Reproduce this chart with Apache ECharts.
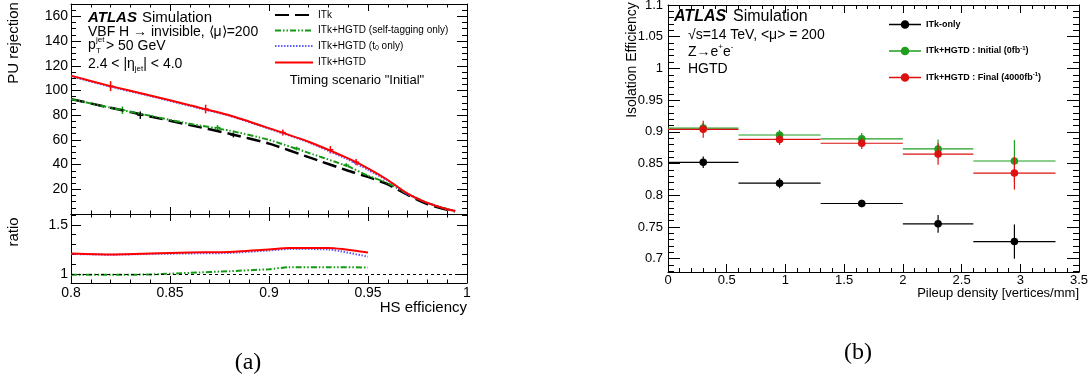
<!DOCTYPE html>
<html>
<head>
<meta charset="utf-8">
<script src="https://cdn.jsdelivr.net/npm/echarts@6/dist/echarts.min.js"></script>
<style>
  html, body { margin: 0; background: #fff; }
  #chart { width: 1091px; height: 378px; }
</style>
</head>
<body>
<div id="chart"></div>
<script>
// ---- (a) PU rejection vs HS efficiency ----
const effA = [0.80, 0.82, 0.84, 0.86, 0.88, 0.90, 0.92, 0.94, 0.95, 0.96, 0.97, 0.98, 0.99, 0.994];
const rejITk = [93, 86, 79, 72, 65, 57, 46, 35, 30, 24, 15.5, 8, 3.5, 2.3];
const rejSelf = [93, 86, 79.5, 73, 67.5, 60, 49.5, 38.5, 31, 25, 16.5, 9, 4, 2.5];
const rejT0 = [111.5, 103, 95.5, 87.5, 79.5, 69, 58, 44, 35.7, 27, 16, 9, 3.8, 2.5];
const rejFull = [112, 103.5, 96, 88, 80, 69.5, 58.5, 45, 37, 27.5, 16.5, 9, 3.8, 2.5];

// error markers: [efficiency, rejection, error]
const errFull = [[0.82, 103.5, 4], [0.868, 85, 3.5], [0.907, 66, 2.5], [0.931, 52, 3], [0.944, 42, 2.5]];
const errSelf = [[0.826, 84, 3], [0.874, 70, 2], [0.914, 53, 1.5], [0.939, 39.5, 1.5]];
const errITk = [[0.835, 80, 3], [0.882, 64, 2]];

// ratio panel
const effRatio = [0.80, 0.82, 0.84, 0.86, 0.88, 0.90, 0.91, 0.93, 0.95];
const ratioFull = [1.21, 1.20, 1.21, 1.22, 1.225, 1.25, 1.265, 1.265, 1.22];
const ratioT0 = [1.205, 1.197, 1.205, 1.21, 1.215, 1.24, 1.255, 1.25, 1.177];
const ratioSelf = [0.993, 0.993, 0.997, 1.013, 1.03, 1.05, 1.07, 1.07, 1.068];

// ---- (b) isolation efficiency vs pileup density ----
const binLo = [0, 0.6, 1.3, 2.0, 2.6];
const binHi = [0.6, 1.3, 2.0, 2.6, 3.3];
const binCenter = [0.3, 0.95, 1.65, 2.3, 2.95];
const effITkOnly = [0.852, 0.819, 0.787, 0.755, 0.727];
const errITkOnly = [0.009, 0.008, 0.006, 0.014, 0.027];
const effInitial = [0.906, 0.895, 0.889, 0.873, 0.854];
const errInitial = [0.008, 0.008, 0.009, 0.015, 0.033];
const effFinal = [0.904, 0.888, 0.882, 0.865, 0.835];
const errFinal = [0.0135, 0.0086, 0.009, 0.017, 0.026];

// tick labels
const xMajorA = [0.8, 0.85, 0.9, 0.95, 1];
const yMajorA = [0, 20, 40, 60, 80, 100, 120, 140, 160];
const yLabelsA = [20, 40, 60, 80, 100, 120, 140, 160];
const yMajorR = [1, 1.5];
const xMajorB = [0, 0.5, 1, 1.5, 2, 2.5, 3, 3.5];
const yMajorB = [0.7, 0.75, 0.8, 0.85, 0.9, 0.95, 1, 1.05, 1.1];

const FONT = 'Liberation Sans';

function steps(a, b, s) {
  const out = [];
  for (let v = a; v <= b + 1e-9; v += s) out.push(+v.toFixed(4));
  return out;
}

// four axes per side pair: labelled + minor, mirrored on the opposite side
function frameAxes(dim, grid, min, max, major, minor, labels, majLen, minLen, margin, fontSize) {
  const lo = dim === 'x' ? 'bottom' : 'left';
  const hi = dim === 'x' ? 'top' : 'right';
  const mk = (pos, ticks, len, showLine, lab) => ({
    gridIndex: grid, type: 'value', min, max, position: pos,
    splitLine: { show: false },
    axisLine: { show: showLine, onZero: false, lineStyle: { color: '#000', width: 1 } },
    axisTick: { show: true, inside: true, length: len, customValues: ticks, lineStyle: { color: '#000', width: 1 } },
    axisLabel: lab
      ? { show: true, customValues: lab, margin, fontSize, color: '#000', fontFamily: FONT }
      : { show: false },
    minorTick: { show: false }
  });
  return [
    mk(lo, major, majLen, true, labels),
    mk(lo, minor, minLen, false, null),
    mk(hi, major, majLen, true, null),
    mk(hi, minor, minLen, false, null)
  ];
}

const xAxes = [
  ...frameAxes('x', 0, 0.8, 1, xMajorA, steps(0.8, 1, 0.01), null, 7, 3.5, 2, 14),
  ...frameAxes('x', 1, 0.8, 1, xMajorA, steps(0.8, 1, 0.01), xMajorA, 7, 3.5, 3, 14),
  ...frameAxes('x', 2, 0, 3.5, xMajorB, steps(0, 3.5, 0.1), xMajorB, 8, 4, 2, 13)
];
const yAxes = [
  ...frameAxes('y', 0, 0, 170, yMajorA, steps(0, 170, 5), yLabelsA, 10, 5, 3, 14),
  ...frameAxes('y', 1, 0.91, 1.61, yMajorR, steps(1, 1.6, 0.1), yMajorR, 10, 5, 3, 14),
  ...frameAxes('y', 2, 0.679, 1.1, yMajorB, steps(0.68, 1.1, 0.01), yMajorB, 12, 6, 5, 13)
];

function renderErrA(params, api) {
  const x = api.value(0), y = api.value(1), e = api.value(2);
  const c = api.coord([x, y]);
  const t = api.coord([x, y + e]);
  const b = api.coord([x, y - e]);
  const st = { stroke: api.visual('color'), lineWidth: 1.5 };
  return {
    type: 'group',
    children: [
      { type: 'line', shape: { x1: c[0], y1: t[1], x2: c[0], y2: b[1] }, style: st },
      { type: 'line', shape: { x1: c[0] - 3, y1: c[1], x2: c[0] + 3, y2: c[1] }, style: st }
    ]
  };
}

function renderBin(params, api) {
  const lo = api.value(0), hi = api.value(1), x = api.value(2), y = api.value(3), e = api.value(4);
  const c = api.coord([x, y]);
  const l = api.coord([lo, y]);
  const r = api.coord([hi, y]);
  const t = api.coord([x, y + e]);
  const b = api.coord([x, y - e]);
  const color = api.visual('color');
  const st = { stroke: color, lineWidth: 1.2 };
  return {
    type: 'group',
    children: [
      { type: 'line', shape: { x1: l[0], y1: c[1], x2: r[0], y2: c[1] }, style: st },
      { type: 'line', shape: { x1: c[0], y1: t[1], x2: c[0], y2: b[1] }, style: st },
      { type: 'circle', shape: { cx: c[0], cy: c[1], r: 3.8 }, style: { fill: color } }
    ]
  };
}

const pts = (xs, ys) => xs.map((x, i) => [x, ys[i]]);
const bins = (ys, es) => binCenter.map((x, i) => [binLo[i], binHi[i], x, ys[i], es[i]]);

const cBlack = '#000000', cGreen = '#119911', cBlue = '#5a5aff', cRed = '#ff0000';
const styles = {
  'ITk': { color: cBlack, width: 2.5, type: [14, 6] },
  'ITk+HGTD (self-tagging only)': { color: cGreen, width: 2, type: [6, 2, 1.5, 2, 1.5, 2] },
  'ITk+HGTD (t0 only)': { color: cBlue, width: 2, type: [1.5, 1.5] },
  'ITk+HGTD': { color: cRed, width: 2, type: 'solid' }
};

function curve(name, data, xi, yi) {
  const s = styles[name];
  return {
    name, type: 'line', xAxisIndex: xi, yAxisIndex: yi, data,
    symbol: 'none', smooth: 0.2,
    itemStyle: { color: s.color },
    lineStyle: { color: s.color, width: s.width, type: s.type }
  };
}

const icon = 'path://M0,4.4L30,4.4L30,5.6L0,5.6Z M11,5A4,4,0,1,1,19,5A4,4,0,1,1,11,5Z';

const option = {
  animation: false,
  textStyle: { fontFamily: FONT },
  grid: [
    { left: 71, top: 4, width: 396, height: 210, outerBoundsMode: 'none' },
    { left: 71, top: 214, width: 396, height: 69, outerBoundsMode: 'none' },
    { left: 668, top: 5, width: 411, height: 267, outerBoundsMode: 'none' }
  ],
  xAxis: xAxes,
  yAxis: yAxes,
  legend: [
    {
      data: ['ITk', 'ITk+HGTD (self-tagging only)', 'ITk+HGTD (t0 only)', 'ITk+HGTD'],
      orient: 'vertical', left: 274, top: 10, padding: 0,
      itemWidth: 38, itemHeight: 10, itemGap: 5.5, selectedMode: false,
      itemStyle: { opacity: 0 },
      textStyle: {
        fontSize: 10, color: '#000', fontFamily: FONT,
        rich: {
          n: { fontSize: 10, lineHeight: 12, fontFamily: FONT, color: '#000' },
          sub: { fontSize: 7, verticalAlign: 'bottom', fontFamily: FONT, color: '#000' }
        }
      },
      formatter: (name) => name === 'ITk+HGTD (t0 only)' ? '{n|ITk+HGTD (t}{sub|0}{n| only)}' : name
    },
    {
      data: [
        { name: 'ITk-only', icon },
        { name: 'ITk+HGTD : Initial (0fb-1)', icon },
        { name: 'ITk+HGTD : Final (4000fb-1)', icon }
      ],
      orient: 'vertical', left: 889, top: 20, padding: 0,
      itemWidth: 32, itemHeight: 10, itemGap: 16, selectedMode: false,
      textStyle: {
        fontSize: 9, fontWeight: 'bold', color: '#000', fontFamily: FONT,
        rich: {
          b: { fontSize: 9, fontWeight: 'bold', lineHeight: 12, fontFamily: FONT, color: '#000' },
          sup: { fontSize: 6, fontWeight: 'bold', verticalAlign: 'top', fontFamily: FONT, color: '#000' }
        }
      },
      formatter: (name) => {
        if (name === 'ITk+HGTD : Initial (0fb-1)') return '{b|ITk+HGTD : Initial (0fb}{sup|-1}{b|)}';
        if (name === 'ITk+HGTD : Final (4000fb-1)') return '{b|ITk+HGTD : Final (4000fb}{sup|-1}{b|)}';
        return name;
      }
    }
  ],
  series: [
    curve('ITk', pts(effA, rejITk), 0, 0),
    curve('ITk+HGTD (self-tagging only)', pts(effA, rejSelf), 0, 0),
    curve('ITk+HGTD (t0 only)', pts(effA, rejT0), 0, 0),
    curve('ITk+HGTD', pts(effA, rejFull), 0, 0),
    { type: 'custom', xAxisIndex: 0, yAxisIndex: 0, data: errITk, renderItem: renderErrA, itemStyle: { color: cBlack }, encode: { x: 0, y: 1 } },
    { type: 'custom', xAxisIndex: 0, yAxisIndex: 0, data: errSelf, renderItem: renderErrA, itemStyle: { color: cGreen }, encode: { x: 0, y: 1 } },
    { type: 'custom', xAxisIndex: 0, yAxisIndex: 0, data: errFull, renderItem: renderErrA, itemStyle: { color: cRed }, encode: { x: 0, y: 1 } },

    Object.assign(curve('ITk+HGTD (self-tagging only)', pts(effRatio, ratioSelf), 4, 4), {
      markLine: {
        silent: true, symbol: 'none', label: { show: false },
        lineStyle: { color: '#000', width: 1, type: [3, 3] },
        data: [{ yAxis: 1 }]
      }
    }),
    curve('ITk+HGTD (t0 only)', pts(effRatio, ratioT0), 4, 4),
    curve('ITk+HGTD', pts(effRatio, ratioFull), 4, 4),

    { name: 'ITk-only', type: 'custom', xAxisIndex: 8, yAxisIndex: 8, data: bins(effITkOnly, errITkOnly), renderItem: renderBin, itemStyle: { color: '#000000' }, encode: { x: 2, y: 3 } },
    { name: 'ITk+HGTD : Initial (0fb-1)', type: 'custom', xAxisIndex: 8, yAxisIndex: 8, data: bins(effInitial, errInitial), renderItem: renderBin, itemStyle: { color: '#1f9e1f' }, encode: { x: 2, y: 3 } },
    { name: 'ITk+HGTD : Final (4000fb-1)', type: 'custom', xAxisIndex: 8, yAxisIndex: 8, data: bins(effFinal, errFinal), renderItem: renderBin, itemStyle: { color: '#dd1111' }, encode: { x: 2, y: 3 } }
  ],
  graphic: [
    // (a) labels
    { type: 'text', x: 88, y: 18, style: { text: 'ATLAS', fontSize: 15, fontWeight: 'bold', fontStyle: 'italic', fontFamily: FONT, fill: '#000', verticalAlign: 'middle' } },
    { type: 'text', x: 142, y: 18, style: { text: 'Simulation', fontSize: 15, fontFamily: FONT, fill: '#000', verticalAlign: 'middle' } },
    { type: 'text', x: 88, y: 32, style: { text: 'VBF H \u2192 invisible, \u27E8\u03BC\u27E9=200', fontSize: 14, fontFamily: FONT, fill: '#000', verticalAlign: 'middle' } },
    { type: 'text', x: 88, y: 45, style: { text: 'p', fontSize: 14, fontFamily: FONT, fill: '#000', verticalAlign: 'middle' } },
    { type: 'text', x: 96, y: 40, style: { text: 'jet', fontSize: 8, fontFamily: FONT, fill: '#000', verticalAlign: 'middle' } },
    { type: 'text', x: 96, y: 51, style: { text: 'T', fontSize: 8, fontFamily: FONT, fill: '#000', verticalAlign: 'middle' } },
    { type: 'text', x: 106, y: 46, style: { text: '> 50 GeV', fontSize: 14, fontFamily: FONT, fill: '#000', verticalAlign: 'middle' } },
    {
      type: 'text', x: 88, y: 64,
      style: {
        text: '{m|2.4 < |\u03B7}{s|jet}{m|| < 4.0}', verticalAlign: 'middle', fill: '#000',
        rich: {
          m: { fontSize: 14, lineHeight: 18, fontFamily: FONT, fill: '#000' },
          s: { fontSize: 8, verticalAlign: 'bottom', fontFamily: FONT, fill: '#000' }
        }
      }
    },
    { type: 'text', x: 357, y: 80, style: { text: 'Timing scenario "Initial"', fontSize: 13, fontFamily: FONT, fill: '#000', align: 'center', verticalAlign: 'middle' } },
    { type: 'text', x: 14, y: 43, rotation: Math.PI / 2, style: { text: 'PU rejection', fontSize: 15, fontFamily: FONT, fill: '#000', align: 'center', verticalAlign: 'middle' } },
    { type: 'text', x: 14, y: 232, rotation: Math.PI / 2, style: { text: 'ratio', fontSize: 15, fontFamily: FONT, fill: '#000', align: 'center', verticalAlign: 'middle' } },
    { type: 'text', x: 467, y: 308, style: { text: 'HS efficiency', fontSize: 15, fontFamily: FONT, fill: '#000', align: 'right', verticalAlign: 'middle' } },
    { type: 'text', x: 248, y: 363, style: { text: '(a)', fontSize: 24, fontFamily: 'Liberation Serif', fill: '#000', align: 'center', verticalAlign: 'middle' } },

    // (b) labels
    { type: 'text', x: 674, y: 17, style: { text: 'ATLAS', fontSize: 16, fontWeight: 'bold', fontStyle: 'italic', fontFamily: FONT, fill: '#000', verticalAlign: 'middle' } },
    { type: 'text', x: 733, y: 17, style: { text: 'Simulation', fontSize: 16, fontFamily: FONT, fill: '#000', verticalAlign: 'middle' } },
    { type: 'text', x: 688, y: 35, style: { text: '\u221As=14 TeV, <\u03BC> = 200', fontSize: 14, fontFamily: FONT, fill: '#000', verticalAlign: 'middle' } },
    {
      type: 'text', x: 688, y: 52,
      style: {
        text: '{m|Z\u2192e}{p|+}{m|e}{p|-}', verticalAlign: 'middle', fill: '#000',
        rich: {
          m: { fontSize: 14, lineHeight: 18, fontFamily: FONT, fill: '#000' },
          p: { fontSize: 8, verticalAlign: 'top', fontFamily: FONT, fill: '#000' }
        }
      }
    },
    { type: 'text', x: 688, y: 69, style: { text: 'HGTD', fontSize: 14, fontFamily: FONT, fill: '#000', verticalAlign: 'middle' } },
    { type: 'text', x: 632, y: 60, rotation: Math.PI / 2, style: { text: 'Isolation Efficiency', fontSize: 14, fontFamily: FONT, fill: '#000', align: 'center', verticalAlign: 'middle' } },
    { type: 'text', x: 1079, y: 293, style: { text: 'Pileup density [vertices/mm]', fontSize: 13, fontFamily: FONT, fill: '#000', align: 'right', verticalAlign: 'middle' } },
    { type: 'text', x: 858, y: 353, style: { text: '(b)', fontSize: 24, fontFamily: 'Liberation Serif', fill: '#000', align: 'center', verticalAlign: 'middle' } }
  ]
};

const chart = echarts.init(document.getElementById('chart'), null, { renderer: 'canvas' });
chart.setOption(option);
</script>
</body>
</html>
